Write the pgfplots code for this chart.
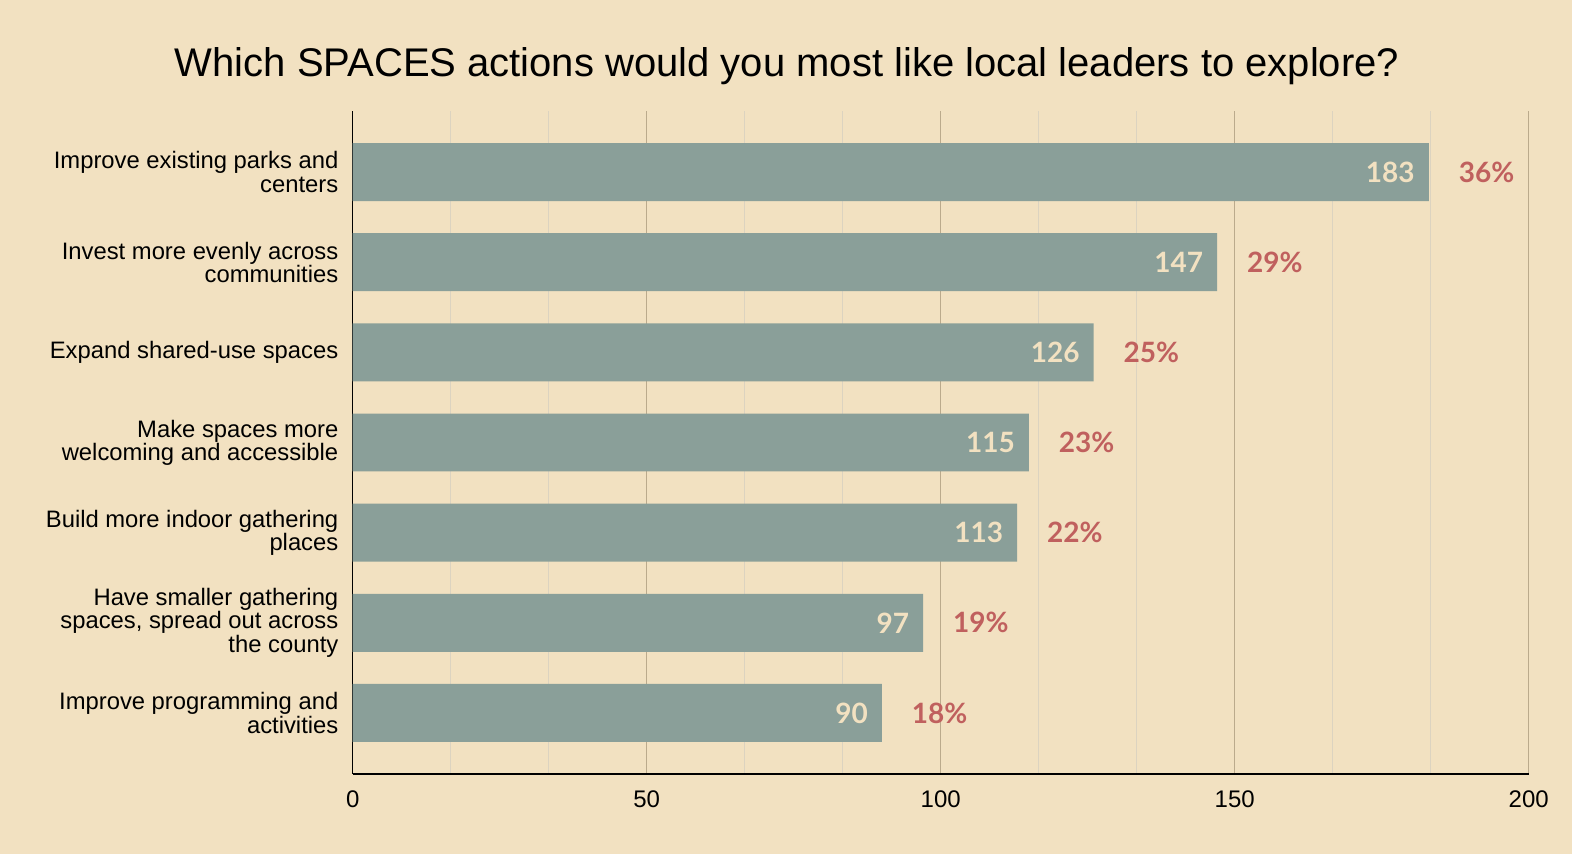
\documentclass[border=0pt]{standalone}
\usepackage{pgfplots}
\pgfplotsset{compat=1.18}
\usepackage{pgfplotstable}
\usepackage{fontspec}
\setmainfont{Liberation Sans}
\newfontfamily\numfont{Lato}
\definecolor{bg}{HTML}{F2E1C1}
\definecolor{barc}{HTML}{8A9F99}
\definecolor{pctc}{HTML}{C0605E}
\definecolor{valc}{HTML}{F2E1C1}
\definecolor{majg}{HTML}{BBAA8C}
\definecolor{ming}{HTML}{DCD3C0}
\pgfplotstableread{
y val pct
6 183 36
5 147 29
4 126 25
3 115 23
2 113 22
1 97 19
0 90 18
}\datatable
\begin{document}
\begin{tikzpicture}
\path[fill=bg, use as bounding box] (0,0) rectangle (786pt,427pt);
\node[font=\fontsize{20}{24}\selectfont, anchor=center] at (393.5pt,394pt) {Which SPACES actions would you most like local leaders to explore?};
\begin{axis}[
  at={(176.35pt,40pt)}, anchor=south west,
  scale only axis, width=588pt, height=331.5pt,
  xmin=0, xmax=200, ymin=-0.677, ymax=6.677,
  xbar, bar width=0.643, bar shift=0pt,
  axis x line*=bottom, axis y line*=left,
  axis line style={black, line width=0.7pt, -},
  xtick={0,50,100,150,200},
  minor x tick num=2,
  major tick length=0pt, minor tick length=0pt,
  xmajorgrids, xminorgrids,
  major grid style={majg, line width=0.55pt},
  minor grid style={ming, line width=0.55pt},
  ytick={0,1,2,3,4,5,6},
  yticklabels={{Improve programming and\\activities},
    {Have smaller gathering\\spaces, spread out across\\the county},
    {Build more indoor gathering\\places},
    {Make spaces more\\welcoming and accessible},
    {Expand shared-use spaces},
    {Invest more evenly across\\communities},
    {Improve existing parks and\\centers}},
  yticklabel style={align=right, font=\fontsize{11.9}{11.6}\selectfont, inner sep=0pt, xshift=-7pt},
  xticklabel style={font=\fontsize{12}{14}\selectfont, inner sep=0pt, yshift=-8pt},
  /pgf/number format/assume math mode=true,
  clip=false,
]
\addplot[fill=barc, draw=none,
  nodes near coords, point meta=explicit symbolic,
  every node near coord/.style={anchor=east, xshift=-3.5pt, font=\numfont\bfseries\fontsize{14}{16}\selectfont, text=valc}
] table[x=val, y=y, meta=val] {\datatable};
\addplot[draw=none, mark=none,
  nodes near coords={\pgfplotspointmeta\%}, point meta=explicit symbolic,
  every node near coord/.style={anchor=west, xshift=11.5pt, font=\numfont\bfseries\fontsize{14}{16}\selectfont, text=pctc}
] table[x=val, y=y, meta=pct] {\datatable};
\end{axis}
\end{tikzpicture}
\end{document}
